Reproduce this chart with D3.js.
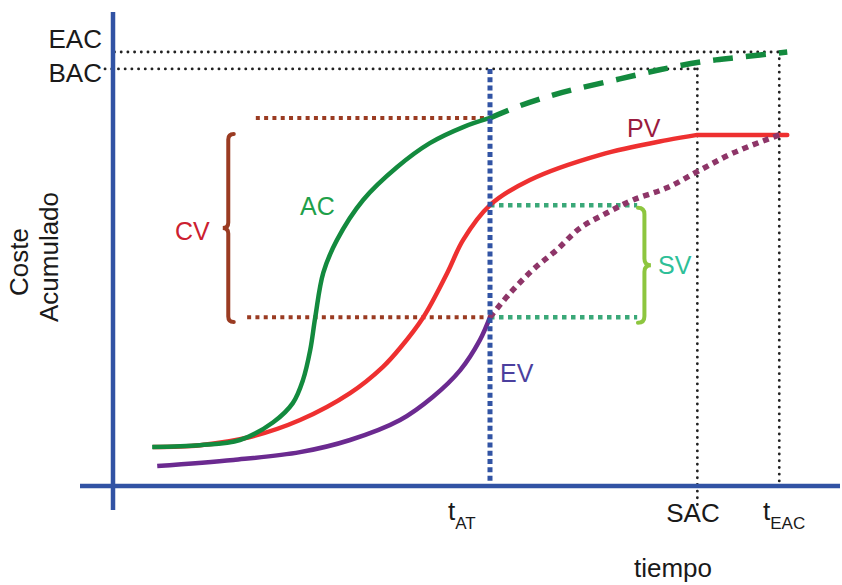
<!DOCTYPE html>
<html>
<head>
<meta charset="utf-8">
<script src="https://cdn.jsdelivr.net/npm/d3@7"></script>
<style>
  body { margin: 0; background: #fff; }
  text { font-family: "Liberation Sans", Arial, sans-serif; }
</style>
</head>
<body>
<svg id="chart" width="842" height="585"></svg>
<script>
// time (0-100) vs cumulative cost (0-100)
var acActual = [[5.4, 9.0], [12.0, 9.4], [17.5, 10.6], [22.1, 14.7], [24.8, 19.1], [26.2, 24.4],
    [27.2, 31.3], [27.9, 38.9], [29.0, 49.1], [30.9, 56.7], [34.5, 65.9], [39.2, 73.5],
    [43.7, 79.0], [48.3, 82.7], [52.0, 84.8]];
var acForecast = [[52.0, 84.8], [56.1, 87.6], [60.3, 89.9], [64.4, 91.7], [69.9, 93.8],
    [75.4, 95.9], [81.0, 97.7], [86.5, 98.8], [93.0, 100]];
var pvPlan = [[5.5, 9.0], [12.0, 9.4], [18.9, 11.3], [25.8, 15.2], [32.7, 21.4], [37.2, 27.4],
    [39.6, 31.8], [42.8, 38.9], [46.1, 49.1], [48.3, 56.7], [52.0, 64.7], [57.5, 70.5],
    [67.2, 76.3], [76.4, 79.7], [80.6, 80.9]];
var pvFlat = [[80.6, 80.9], [93.0, 80.9]];
var evActual = [[6.1, 4.6], [16.6, 6.0], [25.8, 7.8], [32.7, 10.6], [39.6, 15.2], [44.1, 20.5],
    [47.9, 26.7], [50.6, 33.6], [52.0, 38.9]];
var evForecast = [[52.0, 38.9], [54.8, 44.5], [57.9, 49.8], [61.2, 54.4], [64.4, 59.4],
    [68.1, 62.9], [71.7, 65.9], [76.4, 68.7], [81.0, 72.8], [85.5, 76.7], [91.9, 80.9]];

var tAT = 52.0, tSAC = 80.6, tEAC = 91.9;
var EAC = 100, BAC = 96.1;
var acAtT = 84.8, pvAtT = 64.7, evAtT = 38.9;

var svg = d3.select("#chart");
var x = d3.scaleLinear().domain([0, 100]).range([113, 838]),
    y = d3.scaleLinear().domain([0, 100]).range([486, 52]);

var line = d3.line()
    .curve(d3.curveCatmullRom.alpha(0.5))
    .x(function(d) { return x(d[0]); })
    .y(function(d) { return y(d[1]); });

var blue = "#3153a4";

function hline(v, t0, t1, color, w, dash, cap) {
    svg.append("line")
        .attr("x1", x(t0)).attr("x2", x(t1))
        .attr("y1", y(v)).attr("y2", y(v))
        .attr("stroke", color).attr("stroke-width", w)
        .attr("stroke-dasharray", dash)
        .attr("stroke-linecap", cap || "butt");
}
function vline(t, v0, v1, color, w, dash, cap) {
    svg.append("line")
        .attr("x1", x(t)).attr("x2", x(t))
        .attr("y1", y(v0)).attr("y2", y(v1))
        .attr("stroke", color).attr("stroke-width", w)
        .attr("stroke-dasharray", dash)
        .attr("stroke-linecap", cap || "butt");
}

// black reference dotted lines
hline(EAC, 0.2, tEAC, "#222", 2.8, "0.1,6.6", "round");
hline(BAC, -1.1, tSAC, "#222", 2.8, "0.1,6.6", "round");
vline(tSAC, BAC, -4.4, "#222", 2.8, "0.1,6.6", "round");
vline(tEAC, EAC, 0, "#222", 2.8, "0.1,6.6", "round");

// CV / SV helper lines
hline(acAtT, 19.7, tAT, "#9a3b22", 4, "4,4.3");
hline(evAtT, 18.5, tAT, "#9a3b22", 4, "4,4.3");
hline(pvAtT, tAT, 72.3, "#3aa878", 4.5, "4.5,4.5");
hline(evAtT, tAT, 72.3, "#3aa878", 4.5, "4.5,4.5");

// curves
svg.append("path").datum(pvPlan).attr("d", line)
    .attr("fill", "none").attr("stroke", "#ee3030").attr("stroke-width", 4.5);
svg.append("path").datum(pvFlat).attr("d", line)
    .attr("fill", "none").attr("stroke", "#ee3030").attr("stroke-width", 4.5)
    .attr("stroke-linecap", "round");
svg.append("path").datum(evActual).attr("d", line)
    .attr("fill", "none").attr("stroke", "#6b2a90").attr("stroke-width", 4.5);
svg.append("path").datum(evForecast).attr("d", line)
    .attr("fill", "none").attr("stroke", "#8e3568").attr("stroke-width", 5.5)
    .attr("stroke-dasharray", "6,5");
svg.append("path").datum(acActual).attr("d", line)
    .attr("fill", "none").attr("stroke", "#138a3e").attr("stroke-width", 4.5);
svg.append("path").datum(acForecast).attr("d", line)
    .attr("fill", "none").attr("stroke", "#138a3e").attr("stroke-width", 5.5)
    .attr("stroke-dasharray", "20,13");

// tAT blue dotted
vline(tAT, BAC, 0, blue, 5, "5,3.3");

// axes
svg.append("line").attr("x1", x(0)).attr("x2", x(0)).attr("y1", 12).attr("y2", 510)
    .attr("stroke", blue).attr("stroke-width", 4.5);
svg.append("line").attr("x1", 80).attr("x2", 840).attr("y1", y(0)).attr("y2", y(0))
    .attr("stroke", blue).attr("stroke-width", 4.5);

// braces
function brace(xp, y0, y1, w, dir) {
    var ym = (y0 + y1) / 2, s = dir;
    return "M" + (xp + s * w) + "," + y0 +
        " Q" + xp + "," + y0 + " " + xp + "," + (y0 + w) +
        " L" + xp + "," + (ym - w) +
        " Q" + xp + "," + ym + " " + (xp - s * w) + "," + ym +
        " Q" + xp + "," + ym + " " + xp + "," + (ym + w) +
        " L" + xp + "," + (y1 - w) +
        " Q" + xp + "," + y1 + " " + (xp + s * w) + "," + y1;
}
svg.append("path").attr("d", brace(x(15.9), y(81.1), y(37.8), 5.5, 1))
    .attr("fill", "none").attr("stroke", "#9a3b22").attr("stroke-width", 4)
    .attr("stroke-linecap", "round");
svg.append("path").attr("d", brace(x(73.3), y(64.1), y(37.6), 6.5, -1))
    .attr("fill", "none").attr("stroke", "#8dc63f").attr("stroke-width", 4)
    .attr("stroke-linecap", "round");

// labels
function label(txt, px, py, color, size, anchor) {
    return svg.append("text").attr("x", px).attr("y", py)
        .attr("fill", color).attr("font-size", size)
        .attr("text-anchor", anchor || "start").text(txt);
}
label("EAC", 102, 48, "#1a1a1a", 26, "end");
label("BAC", 102, 82, "#1a1a1a", 26, "end");
label("CV", 175, 240, "#cc2030", 25);
label("AC", 300, 215, "#1fa04a", 25);
label("PV", 627, 137, "#9a1b40", 25);
label("SV", 658, 274, "#2ebf98", 25);
label("EV", 500, 382, "#4b3f9e", 25);
label("SAC", 693, 522, "#1a1a1a", 26, "middle");
label("tiempo", 673, 577, "#1a1a1a", 26, "middle");

var tat = label("t", 448, 520, "#1a1a1a", 26);
tat.append("tspan").attr("font-size", 17).attr("dy", 9).text("AT");
var teac = label("t", 763, 520, "#1a1a1a", 26);
teac.append("tspan").attr("font-size", 17).attr("dy", 9).text("EAC");

svg.append("text").attr("transform", "translate(28,262) rotate(-90)")
    .attr("text-anchor", "middle").attr("font-size", 26).attr("fill", "#1a1a1a").text("Coste");
svg.append("text").attr("transform", "translate(58,257) rotate(-90)")
    .attr("text-anchor", "middle").attr("font-size", 26).attr("fill", "#1a1a1a").text("Acumulado");
</script>
</body>
</html>
